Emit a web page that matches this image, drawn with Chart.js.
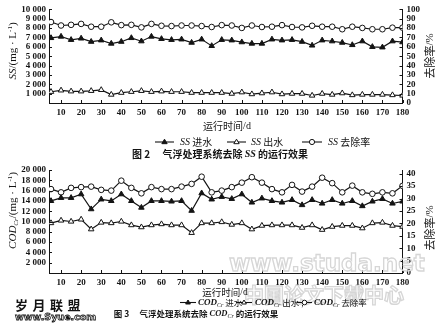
<!DOCTYPE html>
<html>
<head>
<meta charset="utf-8">
<script src="https://cdn.jsdelivr.net/npm/chart.js@4.4.1/dist/chart.umd.min.js"></script>
<style>
  html, body { margin: 0; padding: 0; background: #fff; }
  #page { position: relative; width: 441px; height: 332px; overflow: hidden; background: #fff; }
  canvas { position: absolute; left: 0; }
  #c1 { top: 0; }
  #c2 { top: 160px; }
</style>
</head>
<body>
<div id="page">
  <canvas id="c1" width="441" height="160"></canvas>
  <canvas id="c2" width="441" height="172"></canvas>
</div>
<script>
// Operating day of each sample (every 5 days)
const days = [5,10,15,20,25,30,35,40,45,50,55,60,65,70,75,80,85,90,
              95,100,105,110,115,120,125,130,135,140,145,150,155,160,165,170,175,180];
const dayTicks = [10,20,30,40,50,60,70,80,90,100,110,120,130,140,150,160,170,180];

// Fig. 2 — SS (mg/L) and removal rate (%)
const ssIn   = [6950,7100,6750,6900,6550,6700,6350,6550,6950,6600,7100,6850,6750,6800,6450,6800,6100,6750,
                6700,6500,6350,6350,6800,6700,6750,6550,6150,6700,6600,6450,6200,6600,6000,5950,6600,6500];
const ssOut  = [1200,1350,1250,1250,1300,1400,900,1100,1200,1300,1200,1250,1200,1200,1100,1100,1100,1100,
                1000,1150,950,1050,1150,950,1000,1000,800,1000,900,1050,850,900,900,900,850,800];
const ssRate = [86.5,82.8,83.5,84.5,81.5,81.5,86.2,83.2,83.5,80.8,84.5,82.5,82.2,82.8,82.8,82.2,81.2,83.2,
                82.8,80.2,82.8,81.2,81.5,83.2,81.2,80.8,82.5,81.5,81.5,78.8,81.5,80.2,78.8,78.8,80.5,80.5];
const ssTicks     = [1000,2000,3000,4000,5000,6000,7000,8000,9000,10000];
const ssRateTicks = [0,10,20,30,40,50,60,70,80,90,100];

// Fig. 3 — COD_Cr (mg/L) and removal rate (%)
const codIn   = [14000,14600,14600,15300,12400,14300,14000,15300,14000,12700,14000,14000,13900,14000,12100,15500,14300,14800,
                 14400,15300,13700,14500,14000,13700,14200,13200,14200,13500,14200,13500,14000,13000,13900,14400,13500,13900];
const codOut  = [9700,10200,10000,10400,8500,9800,9700,10000,9300,8900,9300,9500,9300,9300,7800,9700,9700,9900,
                 9400,9700,8500,9200,9300,9300,9300,8800,9300,8400,9000,9200,9200,8700,9700,9800,9200,9000];
const codRate = [33.8,32.5,34.3,34.6,34.8,33.5,33.2,37.2,34.3,32.1,34.6,33.8,33.8,34.8,35.9,38.8,32.5,33.2,
                 34.6,36.4,38.6,36.4,33.8,32.5,35.5,32.8,34.8,38.4,36.2,32.5,35.2,32.5,31.9,32.5,32.1,35.1];
const codTicks     = [2000,4000,6000,8000,10000,12000,14000,16000,18000,20000];
const codRateTicks = [0,5,10,15,20,25,30,35,40];

const INK = '#141414';
const SERIF = '"Liberation Serif", "Times New Roman", serif';
const CJK = '"Noto Sans CJK SC", sans-serif';
const fmt = v => String(v).replace(/\B(?=(\d{3})+(?!\d))/g, ' ');
const pts = arr => days.map((d, i) => ({ x: d, y: arr[i] }));

// ---- small text helpers (runs of differently styled text on one line) ----
function runsWidth(ctx, runs) {
  let w = 0;
  for (const r of runs) { ctx.font = r.font; w += ctx.measureText(r.text).width; }
  return w;
}
function drawRuns(ctx, x, y, runs) {
  ctx.textBaseline = 'middle';
  ctx.textAlign = 'left';
  for (const r of runs) {
    ctx.font = r.font;
    ctx.fillText(r.text, x, y + (r.dy || 0));
    x += ctx.measureText(r.text).width;
  }
  return x;
}
function drawRunsCentered(ctx, cx, cy, runs, rot) {
  ctx.save();
  ctx.translate(cx, cy);
  if (rot) ctx.rotate(rot);
  drawRuns(ctx, -runsWidth(ctx, runs) / 2, 0, runs);
  ctx.restore();
}
function legendMark(ctx, x1, x2, y, kind, r) {
  ctx.beginPath();
  ctx.moveTo(x1, y); ctx.lineTo(x2, y);
  ctx.lineWidth = 1.1; ctx.strokeStyle = INK; ctx.stroke();
  const cx = (x1 + x2) / 2;
  ctx.beginPath();
  if (kind === 'circle') {
    ctx.arc(cx, y, r, 0, Math.PI * 2);
  } else {
    ctx.moveTo(cx, y - r); ctx.lineTo(cx + r * 0.95, y + r * 0.6); ctx.lineTo(cx - r * 0.95, y + r * 0.6); ctx.closePath();
  }
  ctx.fillStyle = kind === 'triFill' ? INK : '#fff';
  ctx.fill();
  ctx.lineWidth = 1; ctx.stroke();
  ctx.fillStyle = INK;
}

// ---- per-figure annotations: axis titles, legend, caption ----
const extras = {
  c1(chart) {
    const ctx = chart.ctx;
    ctx.fillStyle = INK;
    const f = (s, st) => (st || '') + ' ' + s + 'px ' + SERIF;
    drawRunsCentered(ctx, 13, 51, [
      { text: 'SS', font: f(11, 'italic') },
      { text: '/(mg · L', font: f(11) },
      { text: '-1', font: f(7), dy: -3 },
      { text: ')', font: f(11) }
    ], -Math.PI / 2);
    drawRunsCentered(ctx, 430, 56, [
      { text: '去除率', font: '11px ' + CJK },
      { text: '/%', font: f(11) }
    ], -Math.PI / 2);
    drawRunsCentered(ctx, 227, 126, [
      { text: '运行时间', font: '10px ' + CJK },
      { text: '/d', font: f(10) }
    ]);
    const ly = 142;
    legendMark(ctx, 155, 174, ly, 'triFill', 2.8);
    drawRuns(ctx, 180, ly, [{ text: 'SS', font: f(10, 'italic') }, { text: ' 进水', font: '10px ' + CJK }]);
    legendMark(ctx, 227, 246, ly, 'triOpen', 2.8);
    drawRuns(ctx, 251, ly, [{ text: 'SS', font: f(10, 'italic') }, { text: ' 出水', font: '10px ' + CJK }]);
    legendMark(ctx, 302, 322, ly, 'circle', 2.6);
    drawRuns(ctx, 328, ly, [{ text: 'SS', font: f(10, 'italic') }, { text: ' 去除率', font: '10px ' + CJK }]);
    drawRunsCentered(ctx, 220, 154.5, [
      { text: '图 2　 气浮处理系统去除 ', font: 'bold 10px ' + CJK },
      { text: 'SS', font: f(10, 'italic bold') },
      { text: ' 的运行效果', font: 'bold 10px ' + CJK }
    ]);
  },
  c2(chart) {
    const ctx = chart.ctx;
    // faint site lettering across the lower right
    ctx.save();
    ctx.strokeStyle = '#d6d6d6';
    ctx.lineWidth = 1.3;
    ctx.textBaseline = 'middle';
    ctx.textAlign = 'left';
    ctx.font = 'bold 23px "DejaVu Sans", sans-serif';
    ctx.strokeText('www.studa.net', 229, 105);
    ctx.font = 'bold 20px ' + CJK;
    ctx.strokeText('中国论文下载中心', 244, 135);
    ctx.restore();

    ctx.fillStyle = INK;
    const f = (s, st) => (st || '') + ' ' + s + 'px ' + SERIF;
    drawRunsCentered(ctx, 13, 50.5, [
      { text: 'COD', font: f(11, 'italic') },
      { text: 'Cr', font: f(7, 'italic'), dy: 3 },
      { text: '/(mg · L', font: f(11) },
      { text: '-1', font: f(7), dy: -3 },
      { text: ')', font: f(11) }
    ], -Math.PI / 2);
    drawRunsCentered(ctx, 430, 68, [
      { text: '去除率', font: '11px ' + CJK },
      { text: '/%', font: f(11) }
    ], -Math.PI / 2);
    drawRunsCentered(ctx, 225, 132, [
      { text: '运行时间', font: '9.5px ' + CJK },
      { text: '/d', font: f(9.5) }
    ]);
    const ly = 142.5;
    const cod = suffix => [
      { text: 'COD', font: f(9, 'italic bold') },
      { text: 'Cr', font: f(6, 'italic'), dy: 2.5 },
      { text: suffix, font: '8.5px ' + CJK }
    ];
    legendMark(ctx, 180, 196, ly, 'triFill', 2.5);
    drawRuns(ctx, 198, ly, cod(' 进水'));
    legendMark(ctx, 236, 252, ly, 'triOpen', 2.5);
    drawRuns(ctx, 255, ly, cod(' 出水 ,'));
    legendMark(ctx, 297, 312, ly, 'circle', 2.3);
    drawRuns(ctx, 314, ly, cod(' 去除率'));
    drawRunsCentered(ctx, 196, 153.5, [
      { text: '图 3　 气浮处理系统去除 ', font: 'bold 8.5px ' + CJK },
      { text: 'COD', font: f(8.5, 'italic bold') },
      { text: 'Cr', font: f(6, 'italic'), dy: 2.5 },
      { text: ' 的运行效果', font: 'bold 8.5px ' + CJK }
    ]);
    // site mark at the lower left
    ctx.save();
    ctx.font = 'bold 13px ' + CJK;
    ctx.textBaseline = 'middle';
    const logo = ['岁', '月', '联', '盟'];
    logo.forEach((c, i) => ctx.fillText(c, 15 + i * 17.5, 145));
    ctx.font = 'bold 9.5px "DejaVu Sans", sans-serif';
    ctx.lineWidth = 0.8;
    ctx.strokeStyle = INK;
    ctx.strokeText('www.Syue.com', 15, 157.5);
    ctx.restore();
  }
};

// Inward tick marks on all three axes plus the figure annotations
const decoPlugin = {
  id: 'deco',
  afterDraw(chart) {
    const ctx = chart.ctx;
    const { x, y, y1 } = chart.scales;
    ctx.save();
    ctx.strokeStyle = INK;
    ctx.lineWidth = 1;
    ctx.beginPath();
    x.ticks.forEach(t => {
      const p = Math.round(x.getPixelForValue(t.value)) + 0.5;
      ctx.moveTo(p, x.top); ctx.lineTo(p, x.top - 3);
    });
    y.ticks.forEach(t => {
      const p = Math.round(y.getPixelForValue(t.value)) + 0.5;
      ctx.moveTo(y.right, p); ctx.lineTo(y.right + 3, p);
    });
    y1.ticks.forEach(t => {
      const p = Math.round(y1.getPixelForValue(t.value)) + 0.5;
      ctx.moveTo(y1.left, p); ctx.lineTo(y1.left - 3, p);
    });
    ctx.stroke();
    extras[chart.canvas.id](chart);
    ctx.restore();
  }
};

const tickFont = { family: SERIF, size: 9, weight: 'bold' };

function series(data, axis, style, fill) {
  return {
    data: pts(data),
    yAxisID: axis,
    borderColor: INK,
    borderWidth: 1.2,
    pointStyle: style,
    pointRadius: style === 'circle' ? 2.8 : 3.2,
    pointBorderWidth: 1,
    pointBorderColor: INK,
    pointBackgroundColor: fill ? INK : '#fff',
    tension: 0,
    fill: false
  };
}

function makeChart(id, cfg) {
  return new Chart(document.getElementById(id), {
    type: 'line',
    data: { datasets: cfg.datasets },
    options: {
      responsive: false,
      animation: false,
      events: [],
      layout: { padding: cfg.padding },
      plugins: { legend: { display: false }, tooltip: { enabled: false } },
      scales: {
        x: {
          type: 'linear', min: 4, max: 180,
          afterBuildTicks: s => { s.ticks = dayTicks.map(v => ({ value: v })); },
          afterFit: s => { s.height = 20; },
          grid: { display: false, drawTicks: false },
          border: { display: true, color: INK, width: 1 },
          ticks: { font: tickFont, color: INK, padding: 4, maxRotation: 0, autoSkip: false }
        },
        y: {
          position: 'left', min: 0, max: cfg.leftMax,
          afterBuildTicks: s => { s.ticks = cfg.leftTicks.map(v => ({ value: v })); },
          afterFit: s => { s.width = 49; },
          grid: { display: false, drawTicks: false },
          border: { display: true, color: INK, width: 1 },
          ticks: { font: tickFont, color: INK, padding: 3, autoSkip: false, callback: v => fmt(v) }
        },
        y1: {
          position: 'right', min: 0, max: cfg.rightMax,
          afterBuildTicks: s => { s.ticks = cfg.rightTicks.map(v => ({ value: v })); },
          afterFit: s => { s.width = 38.5; },
          grid: { display: false, drawTicks: false },
          border: { display: true, color: INK, width: 1 },
          ticks: { font: tickFont, color: INK, padding: 4, autoSkip: false }
        }
      }
    },
    plugins: [decoPlugin]
  });
}

makeChart('c1', {
  padding: { top: 4, bottom: 37, left: 0, right: 0 },
  leftMax: 10000, leftTicks: ssTicks,
  rightMax: 100, rightTicks: ssRateTicks,
  datasets: [
    series(ssIn, 'y', 'triangle', true),
    series(ssOut, 'y', 'triangle', false),
    series(ssRate, 'y1', 'circle', false)
  ]
});

makeChart('c2', {
  padding: { top: 10, bottom: 39, left: 0, right: 0 },
  leftMax: 20000, leftTicks: codTicks,
  rightMax: 41.5, rightTicks: codRateTicks,
  datasets: [
    series(codIn, 'y', 'triangle', true),
    series(codOut, 'y', 'triangle', false),
    series(codRate, 'y1', 'circle', false)
  ]
});
</script>
</body>
</html>
